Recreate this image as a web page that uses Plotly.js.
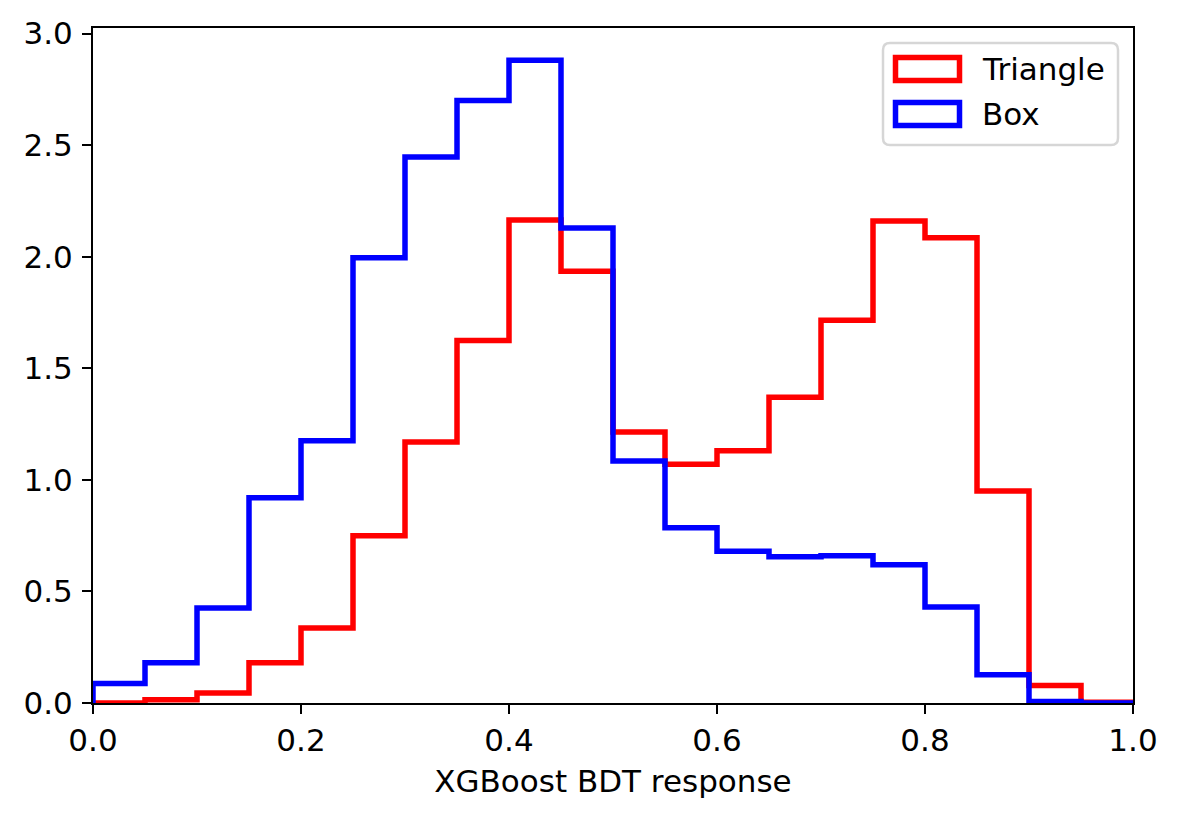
<!DOCTYPE html>
<html>
<head>
<meta charset="utf-8">
<script src="https://cdn.plot.ly/plotly-3.0.1.min.js"></script>
<style>
  html, body { margin: 0; padding: 0; background: #fff; }
  #plot { width: 1181px; height: 821px; }
</style>
</head>
<body>
<div id="plot"></div>
<script>
// Step histograms of the BDT response, 20 bins on [0, 1], density-normalised.
const BIN_EDGES = [0.00, 0.05, 0.10, 0.15, 0.20, 0.25, 0.30, 0.35, 0.40, 0.45, 0.50,
                   0.55, 0.60, 0.65, 0.70, 0.75, 0.80, 0.85, 0.90, 0.95, 1.00];
const TRIANGLE = [0.00, 0.015, 0.045, 0.18, 0.336, 0.75, 1.17, 1.625, 2.165, 1.935,
                  1.215, 1.07, 1.13, 1.37, 1.715, 2.16, 2.085, 0.95, 0.078, 0.003];
const BOX = [0.087, 0.18, 0.426, 0.92, 1.175, 1.995, 2.447, 2.70, 2.88, 2.129,
             1.085, 0.785, 0.68, 0.655, 0.66, 0.62, 0.43, 0.127, 0.007, 0.0];
const SERIES_NAMES = ["Triangle", "Box"];
const SERIES_COLORS = ["#ff0000", "#0000ff"];

(function () {
  "use strict";

  const W = 1181, H = 821;
  const M = { l: 93, r: 48, t: 28, b: 118 };
  const FONT = "DejaVu Sans, sans-serif";
  const FS = 31;

  // pixel → paper helpers for the hand-drawn legend
  const pw = W - M.l - M.r, ph = H - M.t - M.b;
  const px = (x) => (x - M.l) / pw;
  const py = (y) => (H - M.b - y) / ph;

  // matplotlib histtype="step": start and end on the baseline
  function stepTrace(vals, name, color) {
    const x = [BIN_EDGES[0]].concat(BIN_EDGES, [BIN_EDGES[BIN_EDGES.length - 1]]);
    const y = [0].concat(vals, [vals[vals.length - 1], 0]);
    return {
      type: "scatter", mode: "lines", name,
      x, y,
      line: { shape: "hv", color, width: 5.5 },
      showlegend: false, hoverinfo: "x+y",
    };
  }

  const traces = [
    stepTrace(TRIANGLE, SERIES_NAMES[0], SERIES_COLORS[0]),
    stepTrace(BOX, SERIES_NAMES[1], SERIES_COLORS[1]),
  ];

  // ── Legend: rounded frame, outlined patches, labels ──
  const shapes = [];
  const annotations = [];
  const bx0 = 883, bx1 = 1118, by0 = 43, by1 = 145, rad = 7;
  const rx = rad / pw, ry = rad / ph;
  const L = px(bx0), R = px(bx1), T = py(by0), B = py(by1);
  shapes.push({
    type: "path", xref: "paper", yref: "paper",
    path: `M${L + rx},${T} L${R - rx},${T} Q${R},${T} ${R},${T - ry} ` +
          `L${R},${B + ry} Q${R},${B} ${R - rx},${B} L${L + rx},${B} ` +
          `Q${L},${B} ${L},${B + ry} L${L},${T - ry} Q${L},${T} ${L + rx},${T} Z`,
    line: { color: "#d6d6d6", width: 2.5 },
    fillcolor: "rgba(255,255,255,0.8)",
  });
  const rowsY = [69, 114];
  SERIES_NAMES.forEach((name, k) => {
    const cy = rowsY[k];
    shapes.push({
      type: "rect", xref: "paper", yref: "paper",
      x0: px(895.5), x1: px(959.5), y0: py(cy - 11.5), y1: py(cy + 11.5),
      line: { color: SERIES_COLORS[k], width: 5.5 },
      fillcolor: "rgba(0,0,0,0)",
    });
    annotations.push({
      xref: "paper", yref: "paper", x: px(980), y: py(cy),
      xanchor: "left", yanchor: "middle", showarrow: false,
      text: name, font: { family: FONT, size: FS, color: "#000" },
    });
  });

  const axisCommon = {
    showline: true, linecolor: "#000", linewidth: 2, mirror: true,
    ticks: "outside", ticklen: 9, tickwidth: 2, tickcolor: "#000",
    showgrid: false, zeroline: false,
    tickfont: { family: FONT, size: FS, color: "#000" },
    tickformat: ".1f",
  };

  const layout = {
    width: W, height: H,
    margin: M,
    paper_bgcolor: "#fff", plot_bgcolor: "#fff",
    showlegend: false,
    xaxis: Object.assign({}, axisCommon, {
      range: [0, 1], dtick: 0.2, tick0: 0,
      title: { text: "XGBoost BDT response", standoff: 13,
        font: { family: FONT, size: FS, color: "#000" } },
    }),
    yaxis: Object.assign({}, axisCommon, {
      range: [0, 3.025], dtick: 0.5, tick0: 0,
      ticklabelstandoff: 3,
    }),
    shapes, annotations,
  };

  Plotly.newPlot("plot", traces, layout, { displayModeBar: false, staticPlot: true });
})();
</script>
</body>
</html>
